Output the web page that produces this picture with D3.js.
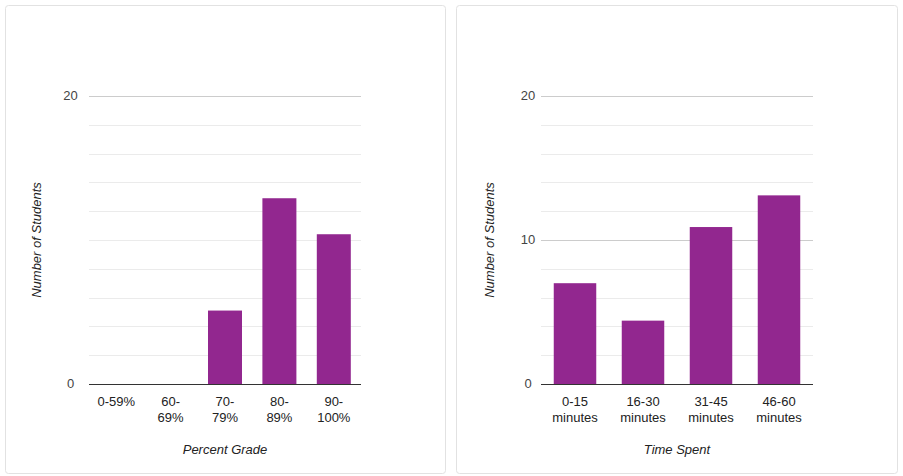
<!DOCTYPE html>
<html>
<head>
<meta charset="utf-8">
<script src="https://cdn.jsdelivr.net/npm/d3@7"></script>
<style>
  body { margin: 0; background: #fff; }
  svg { display: block; font-family: Arial, "Liberation Sans", sans-serif; }
</style>
</head>
<body>
<svg id="charts" width="903" height="476"></svg>
<script>
// left chart: grades
const gradeCategories = ['0-59%', '60-69%', '70-79%', '80-89%', '90-100%'];
const gradeTickLines = [['0-59%'], ['60-', '69%'], ['70-', '79%'], ['80-', '89%'], ['90-', '100%']];
const gradeValues = [0, 0, 5.1, 12.9, 10.4];
const gradeYTicks = [0, 20];

// right chart: time spent
const timeCategories = ['0-15 minutes', '16-30 minutes', '31-45 minutes', '46-60 minutes'];
const timeTickLines = [['0-15', 'minutes'], ['16-30', 'minutes'], ['31-45', 'minutes'], ['46-60', 'minutes']];
const timeValues = [7.0, 4.4, 10.9, 13.1];
const timeYTicks = [0, 10, 20];

const minorTicks = d3.range(0, 21, 2);
const barColor = '#92278f';

const svg = d3.select('#charts');

function drawCard (card) {
    svg.append('rect')
        .attr('x', card.x + 0.5)
        .attr('y', 5.5)
        .attr('width', card.w)
        .attr('height', 468)
        .attr('rx', 3)
        .attr('fill', '#fff')
        .attr('stroke', '#e2e2e2');
}

function drawChart (opt) {
    const g = svg.append('g');

    const x = d3.scaleBand()
        .domain(opt.categories)
        .range([opt.left, opt.right])
        .paddingInner(0.375)
        .paddingOuter(0.1875);

    const y = d3.scaleLinear()
        .domain([0, 20])
        .range([384, 96]);

    // minor gridlines
    g.selectAll('.minor')
        .data(minorTicks.filter(t => !opt.yTicks.includes(t)))
        .enter().append('line')
        .attr('x1', opt.left).attr('x2', opt.right)
        .attr('y1', d => Math.round(y(d)) + 0.5)
        .attr('y2', d => Math.round(y(d)) + 0.5)
        .attr('stroke', '#ebebeb');

    // major gridlines
    g.selectAll('.major')
        .data(opt.yTicks.filter(t => t !== 0))
        .enter().append('line')
        .attr('x1', opt.left).attr('x2', opt.right)
        .attr('y1', d => Math.round(y(d)) + 0.5)
        .attr('y2', d => Math.round(y(d)) + 0.5)
        .attr('stroke', '#cccccc');

    // y tick labels
    g.selectAll('.ylab')
        .data(opt.yTicks)
        .enter().append('text')
        .attr('x', opt.yLabelX)
        .attr('y', d => y(d) + 3.5)
        .attr('text-anchor', 'middle')
        .attr('font-size', 13)
        .attr('fill', '#444')
        .text(d => d);

    // bars
    g.selectAll('.bar')
        .data(opt.values)
        .enter().append('rect')
        .attr('x', (d, i) => x(opt.categories[i]))
        .attr('y', d => y(d))
        .attr('width', x.bandwidth())
        .attr('height', d => y(0) - y(d))
        .attr('fill', barColor);

    // baseline
    g.append('line')
        .attr('x1', opt.left).attr('x2', opt.right)
        .attr('y1', y(0) + 0.5).attr('y2', y(0) + 0.5)
        .attr('stroke', '#333');

    // x tick labels
    const xl = g.selectAll('.xlab')
        .data(opt.tickLines)
        .enter().append('text')
        .attr('text-anchor', 'middle')
        .attr('font-size', 13)
        .attr('fill', '#222')
        .attr('transform', (d, i) => `translate(${x(opt.categories[i]) + x.bandwidth() / 2}, 405.5)`);
    xl.selectAll('tspan')
        .data(d => d)
        .enter().append('tspan')
        .attr('x', 0)
        .attr('dy', (d, i) => i === 0 ? 0 : 16.8)
        .text(d => d);

    // axis titles
    g.append('text')
        .attr('x', (opt.left + opt.right) / 2)
        .attr('y', 453.5)
        .attr('text-anchor', 'middle')
        .attr('font-size', 13)
        .attr('font-style', 'italic')
        .attr('fill', '#222')
        .text(opt.xTitle);

    g.append('text')
        .attr('transform', `translate(${opt.yTitleX}, 240) rotate(-90)`)
        .attr('text-anchor', 'middle')
        .attr('font-size', 13)
        .attr('font-style', 'italic')
        .attr('fill', '#222')
        .text('Number of Students');
}

drawCard({ x: 5, w: 440 });
drawCard({ x: 456, w: 441 });

drawChart({
    categories: gradeCategories,
    tickLines: gradeTickLines,
    values: gradeValues,
    yTicks: gradeYTicks,
    left: 89, right: 361,
    yLabelX: 70.5,
    yTitleX: 41,
    xTitle: 'Percent Grade'
});

drawChart({
    categories: timeCategories,
    tickLines: timeTickLines,
    values: timeValues,
    yTicks: timeYTicks,
    left: 541, right: 813,
    yLabelX: 528,
    yTitleX: 493.5,
    xTitle: 'Time Spent'
});
</script>
</body>
</html>
